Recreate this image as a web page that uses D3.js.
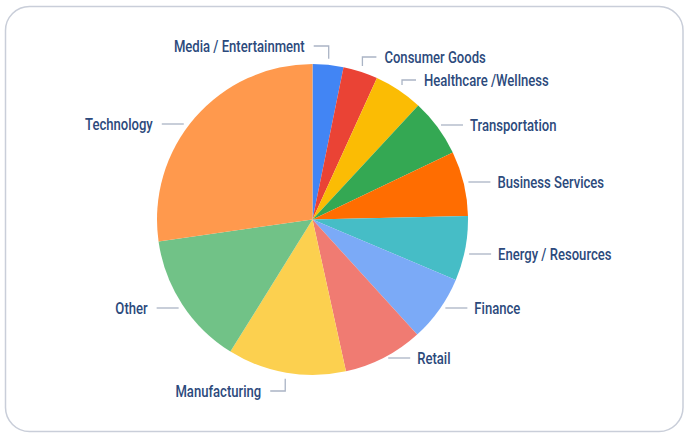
<!DOCTYPE html>
<html><head><meta charset="utf-8">
<script src="https://cdn.jsdelivr.net/npm/d3@7"></script>
<style>html,body{margin:0;padding:0;background:#fff;}svg{display:block;}</style>
</head><body><svg id="c" width="690" height="441"></svg>
<script>
const categories = ["Media / Entertainment","Consumer Goods","Healthcare /Wellness","Transportation","Business Services","Energy / Resources","Finance","Retail","Manufacturing","Other","Technology"];
const values = [3.2, 3.6, 5.1, 6.0, 6.75, 6.7, 6.9, 8.3, 12.3, 13.9, 27.25];
const colors = ["#4285F4","#EA4335","#FBBC04","#34A853","#FF6D01","#46BDC6","#7BAAF7","#F07B72","#FCD04F","#71C287","#FF994D"];
// label layout: leader style, side and label vertical position
const labelStyle = ["elbow","elbow","elbow","h","h","h","h","h","elbow","h","h"];
const labelSide = ["left","right","right","right","right","right","right","right","left","left","left"];
const labelY = [46, 57, 80, 125, 182, 254, 308, 358, 391, 308, 124];

const cx = 312.5, cy = 219.5, R = 155.5;
const svg = d3.select("#c");
svg.append("rect").attr("x",5.5).attr("y",6.5).attr("width",677.5).attr("height",425)
  .attr("rx",24).attr("fill","#fff").attr("stroke","#c9ced9").attr("stroke-width",1.5);

const data = categories.map((c,i)=>({name:c,value:values[i],color:colors[i],style:labelStyle[i],side:labelSide[i],ly:labelY[i]}));
const pie = d3.pie().value(d=>d.value).sort(null);
const arcs = pie(data);
const arc = d3.arc().innerRadius(0).outerRadius(R);
const g = svg.append("g").attr("transform",`translate(${cx},${cy})`);
g.selectAll("path").data(arcs).join("path").attr("d",arc).attr("fill",d=>d.data.color);

const lineColor = "#aab4c5", textColor = "#2c4a7c";
const FS = 16.5;
const lg = svg.append("g");
const probe = lg.append("text").attr("font-family","Roboto").attr("font-weight",500).attr("font-size",FS).text(categories[0]);
const sx = 131 / probe.node().getComputedTextLength();
probe.remove();

arcs.forEach(a=>{
  const mid = (a.startAngle + a.endAngle)/2;
  const right = a.data.side === "right";
  const ly = a.data.ly;
  let pts, tx;
  if (a.data.style === "elbow") {
    const rr = R + 6;
    const px = cx + rr*Math.sin(mid), py = cy - rr*Math.cos(mid);
    const hx = px + (right ? 14 : -15);
    pts = [[px,py],[px,ly],[hx,ly]];
    tx = hx + (right ? 8 : -9);
  } else {
    const dy = ly - cy;
    const dx = Math.sqrt(Math.max(0, R*R - dy*dy));
    const x0 = cx + (right ? dx + 5 : -dx - 6);
    const x1 = x0 + (right ? 22 : -22);
    pts = [[x0,ly],[x1,ly]];
    tx = x1 + (right ? 7 : -9);
  }
  lg.append("path").attr("d", d3.line()(pts)).attr("fill","none")
    .attr("stroke",lineColor).attr("stroke-width",1.3);
  lg.append("text").attr("transform",`translate(${tx},${ly}) scale(${sx},1)`)
    .attr("text-anchor", right ? "start" : "end").attr("dy","0.36em")
    .attr("font-family","Roboto").attr("font-weight",500).attr("font-size",FS).attr("fill",textColor)
    .text(a.data.name);
});
</script></body></html>
